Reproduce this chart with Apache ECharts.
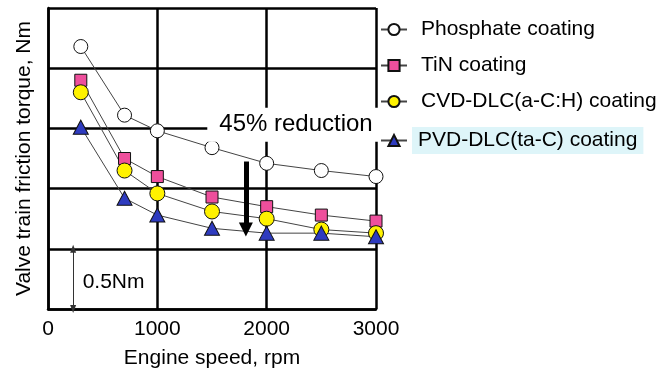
<!DOCTYPE html>
<html>
<head>
<meta charset="utf-8">
<script src="https://cdn.jsdelivr.net/npm/echarts@6/dist/echarts.min.js"></script>
<style>
	html, body { margin: 0; padding: 0; background: #fff; }
	#chart { width: 672px; height: 379px; }
</style>
</head>
<body>
<div id="chart"></div>
<script>
//   engine speed, rpm
var speeds = [300, 700, 1000, 1500, 2000, 2500, 3000];
//   friction torque, Nm
var phosphate = [2.18, 1.61, 1.48, 1.34, 1.21, 1.15, 1.10];
var tin = [1.90, 1.25, 1.10, 0.93, 0.85, 0.78, 0.73];
var cvd = [1.80, 1.15, 0.96, 0.81, 0.75, 0.66, 0.63];
var pvd = [1.51, 0.92, 0.78, 0.67, 0.63, 0.63, 0.60];
var names = ['Phosphate coating', 'TiN coating', 'CVD-DLC(a-C:H) coating', 'PVD-DLC(ta-C) coating'];
var xTicks = [0, 1000, 2000, 3000];
//   annotations
var arrowX = 1810, arrowFrom = 1.225, arrowTo = 0.66;
var scaleX = 230, scaleFrom = 0.5, scaleTo = 0;

var font = 'Liberation Sans, Arial, sans-serif';

var pairs = function (ys) {
	var out = [];
	for (var i = 0; i < speeds.length; i++) {
		out.push([speeds[i], ys[i]]);
	}
	return out;
};

var lineStyle = { color: '#444', width: 1 };

var series = [
	{
		name: names[0], type: 'line', data: pairs(phosphate),
		symbol: 'circle', symbolSize: 14,
		itemStyle: { color: '#fff', borderColor: '#111', borderWidth: 1 },
		lineStyle: lineStyle
	},
	{
		name: names[1], type: 'line', data: pairs(tin),
		symbol: 'rect', symbolSize: 12,
		itemStyle: { color: '#ee4f9c', borderColor: '#111', borderWidth: 1 },
		lineStyle: lineStyle
	},
	{
		name: names[2], type: 'line', data: pairs(cvd),
		symbol: 'circle', symbolSize: 15,
		itemStyle: { color: '#fff200', borderColor: '#111', borderWidth: 1 },
		lineStyle: lineStyle
	},
	{
		name: names[3], type: 'line', data: pairs(pvd),
		symbol: 'triangle', symbolSize: [15, 14],
		itemStyle: { color: '#2e3bbf', borderColor: '#111', borderWidth: 1 },
		lineStyle: lineStyle,
		markLine: {
			silent: true,
			animation: false,
			label: { show: false },
			data: [
				[
					{ coord: [arrowX, arrowFrom], symbol: 'none', lineStyle: { color: '#000', width: 5, type: 'solid' } },
					{ coord: [arrowX, arrowTo], symbol: 'triangle', symbolSize: [14, 14], symbolRotate: 180 }
				],
				[
					{ coord: [scaleX, scaleFrom], symbol: 'triangle', symbolSize: [6, 8], lineStyle: { color: '#333', width: 1, type: 'solid' } },
					{ coord: [scaleX, scaleTo], symbol: 'triangle', symbolSize: [6, 8], symbolRotate: 180 }
				]
			]
		},
		markPoint: {
			silent: true,
			animation: false,
			symbolSize: 0,
			data: [
				{
					coord: [2250, 1.53],
					label: {
						show: true, position: 'inside', formatter: '45% reduction',
						color: '#000', fontFamily: font, fontSize: 24,
						backgroundColor: '#fff', padding: [5, 8, 5, 12]
					}
				},
				{
					coord: [600, 0.22],
					label: {
						show: true, position: 'inside', formatter: '0.5Nm',
						color: '#000', fontFamily: font, fontSize: 21
					}
				}
			]
		}
	}
];

var myChart = echarts.init(document.getElementById('chart'), null, { renderer: 'canvas' });

var option = {
	animation: false,
	backgroundColor: '#fff',
	grid: { left: 48, right: 296, top: 8, bottom: 70 },
	legend: {
		orient: 'vertical',
		left: 375,
		top: 14,
		itemWidth: 26,
		itemHeight: 14,
		itemGap: 15,
		data: names,
		formatter: function (name) {
			return name === names[3] ? '{hl|' + name + '}' : '{t|' + name + '}';
		},
		textStyle: {
			color: '#000', fontFamily: font, fontSize: 21,
			rich: {
				t: { color: '#000', fontFamily: font, fontSize: 21, padding: [2, 0, 2, 9] },
				hl: { color: '#000', fontFamily: font, fontSize: 21, padding: [3, 6, 3, 6], backgroundColor: '#def5f9' }
			}
		}
	},
	xAxis: {
		type: 'value',
		min: 0, max: 3000, interval: 1000,
		name: 'Engine speed, rpm',
		nameLocation: 'middle',
		nameGap: 39,
		nameTextStyle: { color: '#000', fontFamily: font, fontSize: 21 },
		axisLine: { show: true, lineStyle: { color: '#000', width: 2.5 } },
		axisTick: { show: false },
		axisLabel: {
			color: '#000', fontFamily: font, fontSize: 21, margin: 10,
			formatter: function (v) { return xTicks.indexOf(v) >= 0 ? String(v) : ''; }
		},
		splitLine: { show: true, lineStyle: { color: '#000', width: 2.5 } }
	},
	yAxis: {
		type: 'value',
		min: 0, max: 2.5, interval: 0.5,
		name: 'Valve train friction torque, Nm',
		nameLocation: 'middle',
		nameGap: 13,
		nameTextStyle: { color: '#000', fontFamily: font, fontSize: 21 },
		axisLine: { show: true, lineStyle: { color: '#000', width: 2.5 } },
		axisTick: { show: false },
		axisLabel: { show: false },
		splitLine: { show: true, lineStyle: { color: '#000', width: 2.5 } }
	},
	series: series
};

myChart.setOption(option);
</script>
</body>
</html>
